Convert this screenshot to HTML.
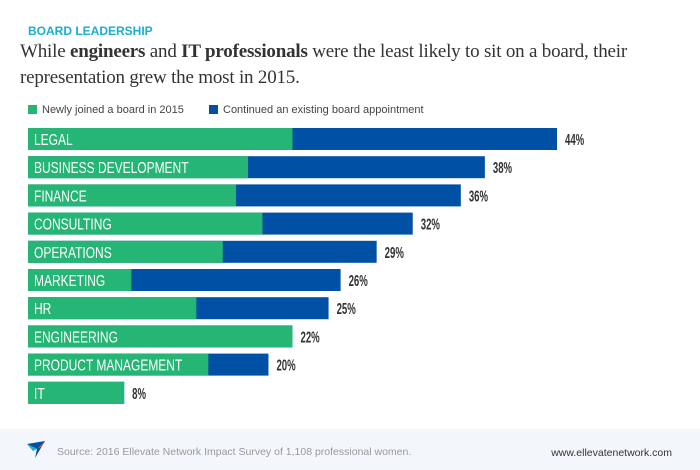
<!DOCTYPE html>
<html><head><meta charset="utf-8"><style>
body{margin:0;width:700px;height:470px;background:#fff;position:relative;overflow:hidden;font-family:"Liberation Sans",sans-serif}
.kicker{position:absolute;left:28px;top:24px;font-size:12px;font-weight:bold;color:#1aaed0}
.title{position:absolute;left:20px;top:39px;font-family:"Liberation Serif",serif;font-size:19px;line-height:26px;color:#333;letter-spacing:-0.2px;white-space:nowrap}
.legend{position:absolute;top:104px;font-size:11px;color:#444}
.sw{display:inline-block;width:9px;height:9px;vertical-align:-1px;margin-right:5px}
.footer{position:absolute;left:0;top:429px;width:700px;height:41px;background:#f3f6fa}
.src{position:absolute;left:57px;top:446px;font-size:10.5px;color:#999}
.url{position:absolute;right:28px;top:447px;font-size:10.5px;color:#333}
</style></head><body>
<div class="kicker">BOARD LEADERSHIP</div>
<div class="title">While <b>engineers</b> and <b>IT professionals</b> were the least likely to sit on a board, their<br>representation grew the most in 2015.</div>
<div class="legend" style="left:28px"><span class="sw" style="background:#25b574"></span>Newly joined a board in 2015</div>
<div class="legend" style="left:209px"><span class="sw" style="background:#0050a5"></span>Continued an existing board appointment</div>
<svg id="chart" width="700" height="470" style="position:absolute;left:0;top:0"></svg>
<div class="footer"></div>
<svg style="position:absolute;left:27px;top:441px" width="20" height="18"><polygon points="0,3 18,0 8,17 10,8" fill="#0050a5"/><polygon points="0,3 10,8 6,10" fill="#1aaed0"/><polygon points="10,8 18,0 14,6" fill="#e05a2a"/></svg>
<div class="src">Source: 2016 Ellevate Network Impact Survey of 1,108 professional women.</div>
<div class="url">www.ellevatenetwork.com</div>
<script>
const categories=["LEGAL","BUSINESS DEVELOPMENT","FINANCE","CONSULTING","OPERATIONS","MARKETING","HR","ENGINEERING","PRODUCT MANAGEMENT","IT"];
const totals=[44,38,36,32,29,26,25,22,20,8];
const newlyJoined=[22,18.3,17.3,19.5,16.2,8.6,14,22,15,8];
const x0=28,pxPer=529/44,y0=128,step=28.2,bh=22;
const xs=v=>x0+v*pxPer;
const ys=i=>y0+i*step;
const svg=document.getElementById('chart');
const NS='http://www.w3.org/2000/svg';
categories.forEach((c,i)=>{
  const g=document.createElementNS(NS,'g');
  
  
  const t=document.createElementNS(NS,'rect');
  t.setAttribute('x',x0);t.setAttribute('y',ys(i));t.setAttribute('width',xs(totals[i])-x0);t.setAttribute('height',bh);t.setAttribute('fill','#0050a5');
  
  
  g.appendChild(t);
  const n=document.createElementNS(NS,'rect');
  n.setAttribute('x',x0);n.setAttribute('y',ys(i));n.setAttribute('width',xs(Math.min(newlyJoined[i],totals[i]))-x0);n.setAttribute('height',bh);n.setAttribute('fill','#25b574');
  
  
  g.appendChild(n);
  const l=document.createElementNS(NS,'text');
  l.setAttribute('transform','translate('+(x0+6)+','+(ys(i)+17)+') scale(0.75,1)');
  l.setAttribute('fill','#fff');l.setAttribute('font-size','16');
  l.textContent=c;
  
  
  g.appendChild(l);
  const v=document.createElementNS(NS,'text');
  v.setAttribute('transform','translate('+(xs(totals[i])+8)+','+(ys(i)+17)+') scale(0.6,1)');
  v.setAttribute('fill','#333');v.setAttribute('font-size','16');v.setAttribute('font-weight','bold');
  v.textContent=totals[i]+'%';
  
  
  g.appendChild(v);
  svg.appendChild(g);
});
</script>
</body></html>
